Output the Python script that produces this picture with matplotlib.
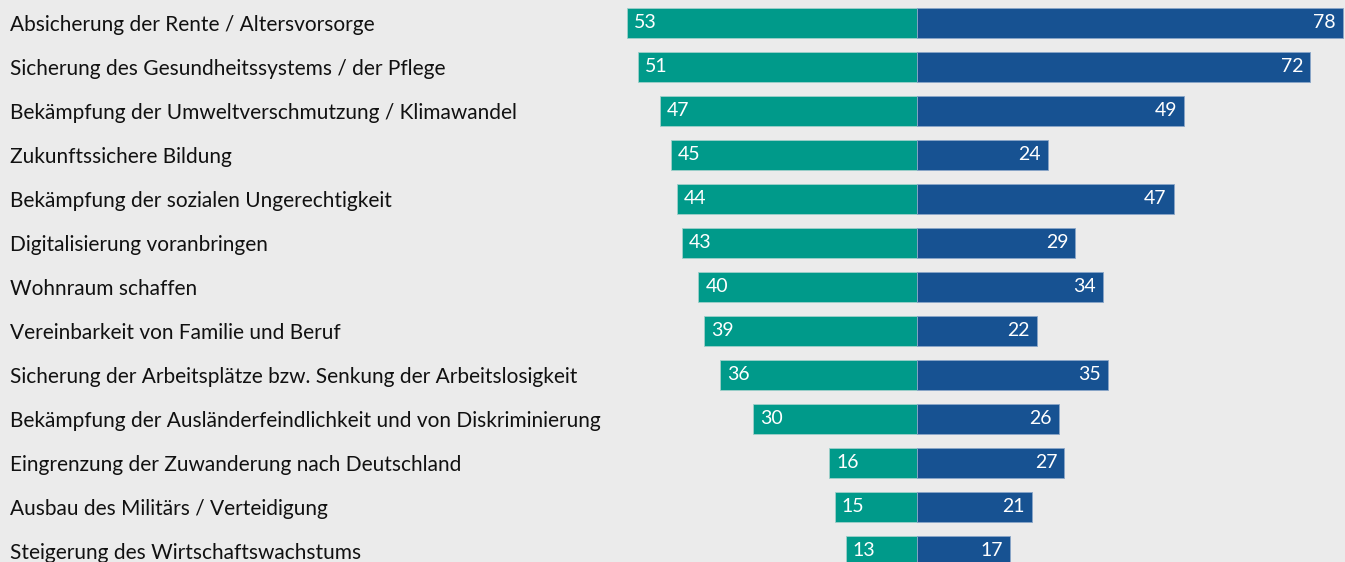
import matplotlib
matplotlib.use("Agg")
import matplotlib.pyplot as plt
import matplotlib.transforms as mtrans

themen = [
    "Absicherung der Rente / Altersvorsorge",
    "Sicherung des Gesundheitssystems / der Pflege",
    "Bekämpfung der Umweltverschmutzung / Klimawandel",
    "Zukunftssichere Bildung",
    "Bekämpfung der sozialen Ungerechtigkeit",
    "Digitalisierung voranbringen",
    "Wohnraum schaffen",
    "Vereinbarkeit von Familie und Beruf",
    "Sicherung der Arbeitsplätze bzw. Senkung der Arbeitslosigkeit",
    "Bekämpfung der Ausländerfeindlichkeit und von Diskriminierung",
    "Eingrenzung der Zuwanderung nach Deutschland",
    "Ausbau des Militärs / Verteidigung",
    "Steigerung des Wirtschaftswachstums",
]
links = [53, 51, 47, 45, 44, 43, 40, 39, 36, 30, 16, 15, 13]
rechts = [78, 72, 49, 24, 47, 29, 34, 22, 35, 26, 27, 21, 17]

gruen = "#009a8a"
blau = "#175292"
hg = "#ebebeb"

plt.rcParams["font.family"] = ["Lato", "DejaVu Sans"]

fig = plt.figure(figsize=(13.45, 5.62), dpi=100)
fig.patch.set_facecolor(hg)
ax = fig.add_axes([0, 0, 1, 1])
ax.set_facecolor(hg)

y = list(range(len(themen)))
ax.barh(y, [-v for v in links], height=0.68, color=gruen, edgecolor="#9fd0ca", linewidth=0.6)
ax.barh(y, rechts, height=0.68, color=blau, edgecolor="#8aa6c8", linewidth=0.6)

trans = mtrans.blended_transform_factory(ax.transAxes, ax.transData)
for i in y:
    # Themen links, etwas tiefer gesetzt wie im Original
    ax.text(10 / 1345, i + 0.05, themen[i], transform=trans, ha="left", va="center",
            fontsize=15, color="#111111")
    ax.annotate(str(links[i]), (-links[i], i), xytext=(5, 0), textcoords="offset points",
                ha="left", va="center", fontsize=14, color="white")
    ax.annotate(str(rechts[i]), (rechts[i], i), xytext=(-5, 0), textcoords="offset points",
                ha="right", va="center", fontsize=14, color="white")

ax.set_xlim(-167.9, 78.4)
ax.set_ylim(12.25, -0.5227)
ax.axis("off")

fig.savefig("out.png", dpi=100, facecolor=hg)
